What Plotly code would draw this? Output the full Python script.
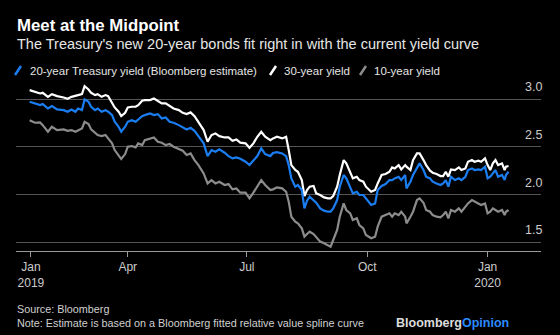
import plotly.graph_objects as go

# Daily-ish yield readings, 2019-01 to 2020-01 (percent)
dates = [
    "2019-01-16", "2019-01-20", "2019-01-24", "2019-01-26", "2019-01-30", "2019-02-02",
    "2019-02-06", "2019-02-11", "2019-02-14", "2019-02-17", "2019-02-20", "2019-02-22",
    "2019-02-25", "2019-02-27", "2019-03-02", "2019-03-04", "2019-03-07", "2019-03-09",
    "2019-03-12", "2019-03-15", "2019-03-17", "2019-03-20", "2019-03-22", "2019-03-25",
    "2019-03-27", "2019-03-30", "2019-04-01", "2019-04-04", "2019-04-07", "2019-04-09",
    "2019-04-12", "2019-04-14", "2019-04-18",
    "2019-04-21", "2019-04-24", "2019-04-27", "2019-04-30", "2019-05-03", "2019-05-06",
    "2019-05-10", "2019-05-13", "2019-05-16", "2019-05-19", "2019-05-22", "2019-05-25",
    "2019-05-29", "2019-06-01", "2019-06-04", "2019-06-07", "2019-06-10", "2019-06-14",
    "2019-06-17", "2019-06-20", "2019-06-23", "2019-06-26", "2019-06-30", "2019-07-03",
    "2019-07-06", "2019-07-09", "2019-07-12", "2019-07-15", "2019-07-19",
    "2019-07-21", "2019-07-24", "2019-07-28", "2019-07-31", "2019-08-02", "2019-08-04",
    "2019-08-07", "2019-08-09", "2019-08-12", "2019-08-14", "2019-08-16", "2019-08-18",
    "2019-08-21", "2019-08-23", "2019-08-26", "2019-08-29", "2019-09-01", "2019-09-03",
    "2019-09-05", "2019-09-08", "2019-09-10", "2019-09-13", "2019-09-15", "2019-09-18",
    "2019-09-20", "2019-09-23", "2019-09-25", "2019-09-28", "2019-09-30", "2019-10-04",
    "2019-10-07", "2019-10-09", "2019-10-12", "2019-10-15", "2019-10-18",
    "2019-10-20", "2019-10-22", "2019-10-25", "2019-10-27", "2019-10-30", "2019-10-31",
    "2019-11-03", "2019-11-05", "2019-11-08", "2019-11-10", "2019-11-13", "2019-11-15",
    "2019-11-18", "2019-11-20", "2019-11-23", "2019-11-26", "2019-11-28", "2019-11-30",
    "2019-12-02", "2019-12-04", "2019-12-07", "2019-12-10", "2019-12-12", "2019-12-15",
    "2019-12-17", "2019-12-20", "2019-12-22", "2019-12-25", "2019-12-27", "2019-12-30",
    "2020-01-01", "2020-01-03", "2020-01-05", "2020-01-07", "2020-01-09", "2020-01-12",
    "2020-01-14", "2020-01-15", "2020-01-17",
]

yield_30y = [
    3.094, 3.077, 3.059, 3.066, 3.024, 3.052, 3.031, 3.017, 3.003, 3.024, 3.031, 3.042,
    3.052, 3.136, 3.101, 3.066, 3.042, 3.052, 3.024, 3.042, 3.031, 2.962, 2.913, 2.868,
    2.822, 2.857, 2.913, 2.920, 2.920, 2.937, 2.983, 2.990, 2.990,
    3.007, 2.983, 2.955, 2.955, 2.927, 2.902, 2.885, 2.857, 2.843, 2.861, 2.822, 2.753,
    2.676, 2.554, 2.624, 2.641, 2.613, 2.599, 2.599, 2.564, 2.578, 2.544, 2.537, 2.491,
    2.537, 2.606, 2.659, 2.606, 2.571,
    2.589, 2.606, 2.589, 2.606, 2.467, 2.310, 2.258, 2.240, 2.153, 1.986, 2.049, 2.084,
    2.091, 2.014, 1.997, 1.972, 1.962, 1.962, 1.986, 2.084, 2.206, 2.362, 2.328, 2.223,
    2.171, 2.188, 2.153, 2.136, 2.084, 2.031, 2.049, 2.118, 2.206, 2.216, 2.240,
    2.286, 2.275, 2.310, 2.265, 2.310, 2.293, 2.258, 2.362, 2.432, 2.432, 2.362, 2.310,
    2.251, 2.230, 2.216, 2.195, 2.195, 2.240, 2.188, 2.265, 2.258, 2.286, 2.258, 2.275,
    2.345, 2.362, 2.345, 2.355, 2.345, 2.380, 2.310, 2.258, 2.328, 2.362, 2.310, 2.328,
    2.258, 2.293, 2.300,
]

yield_20y = [
    2.972, 2.955, 2.937, 2.948, 2.902, 2.927, 2.892, 2.885, 2.868, 2.892, 2.868, 2.902,
    2.885, 2.997, 2.972, 2.920, 2.885, 2.902, 2.868, 2.885, 2.868, 2.833, 2.763, 2.711,
    2.659, 2.711, 2.763, 2.780, 2.763, 2.787, 2.822, 2.833, 2.850,
    2.833, 2.843, 2.798, 2.808, 2.763, 2.753, 2.728, 2.704, 2.683, 2.700, 2.669, 2.613,
    2.537, 2.404, 2.467, 2.449, 2.474, 2.439, 2.404, 2.380, 2.390, 2.376, 2.345, 2.310,
    2.362, 2.404, 2.484, 2.425, 2.404,
    2.436, 2.446, 2.432, 2.404, 2.310, 2.171, 2.084, 2.101, 2.049, 1.857, 1.937, 1.979,
    1.944, 1.916, 1.857, 1.833, 1.822, 1.822, 1.857, 1.944, 2.084, 2.206, 2.171, 2.084,
    2.014, 2.031, 1.997, 1.997, 1.962, 1.892, 1.909, 2.049, 2.091, 2.111, 2.153,
    2.153, 2.171, 2.188, 2.153, 2.206, 2.066, 2.136, 2.206, 2.286, 2.328, 2.258, 2.188,
    2.171, 2.136, 2.118, 2.101, 2.118, 2.153, 2.084, 2.188, 2.153, 2.171, 2.153, 2.188,
    2.258, 2.275, 2.258, 2.265, 2.258, 2.293, 2.171, 2.188, 2.223, 2.258, 2.188, 2.206,
    2.153, 2.206, 2.240,
]

yield_10y = [
    2.780, 2.753, 2.756, 2.728, 2.659, 2.711, 2.676, 2.683, 2.669, 2.676, 2.659, 2.676,
    2.693, 2.763, 2.739, 2.683, 2.648, 2.624, 2.613, 2.624, 2.589, 2.537, 2.467, 2.404,
    2.373, 2.425, 2.502, 2.509, 2.495, 2.537, 2.519, 2.571, 2.589,
    2.599, 2.554, 2.544, 2.519, 2.530, 2.502, 2.474, 2.460, 2.415, 2.432, 2.362, 2.310,
    2.223, 2.118, 2.153, 2.118, 2.136, 2.101, 2.111, 2.056, 2.066, 2.021, 2.021, 1.962,
    2.021, 2.084, 2.153, 2.101, 2.049,
    2.056, 2.077, 2.066, 2.031, 1.927, 1.770, 1.718, 1.700, 1.648, 1.561, 1.589, 1.613,
    1.589, 1.561, 1.509, 1.491, 1.474, 1.456, 1.526, 1.631, 1.770, 1.909, 1.840, 1.805,
    1.735, 1.753, 1.683, 1.648, 1.578, 1.544, 1.561, 1.666, 1.770, 1.787, 1.805,
    1.770, 1.805, 1.787, 1.822, 1.770, 1.700, 1.770, 1.822, 1.944, 1.962, 1.916, 1.840,
    1.822, 1.787, 1.770, 1.763, 1.787, 1.822, 1.753, 1.840, 1.822, 1.857, 1.822, 1.875,
    1.909, 1.944, 1.927, 1.909, 1.892, 1.909, 1.805, 1.822, 1.857, 1.840, 1.822, 1.840,
    1.787, 1.822, 1.840,
]

tick_dates = ["2019-01-17", "2019-04-01", "2019-07-01", "2019-10-01", "2020-01-01"]
tick_text = ["Jan<br>2019", "Apr", "Jul", "Oct", "Jan<br>2020"]
y_ticks = [1.5, 2.0, 2.5, 3.0]
y_tick_text = ["1.5", "2.0", "2.5", "3.0"]

BLUE = "#1a7ef2"
GRAY = "#8c8c8c"
WHITE = "#ffffff"
FONT = "Liberation Sans, Arial, sans-serif"

W, H = 560, 335
M_L, M_R, M_T, M_B = 16, 19, 80, 84
PW, PH = W - M_L - M_R, H - M_T - M_B


def px(x):
    """Figure pixel column -> paper x."""
    return (x - M_L) / PW


def py(y):
    """Figure pixel row -> paper y."""
    return (H - M_B - y) / PH


fig = go.Figure()
fig.add_trace(go.Scatter(x=dates, y=yield_10y, mode="lines",
                         line=dict(color=GRAY, width=2.2), showlegend=False))
fig.add_trace(go.Scatter(x=dates, y=yield_30y, mode="lines",
                         line=dict(color=WHITE, width=2.2), showlegend=False))
fig.add_trace(go.Scatter(x=dates, y=yield_20y, mode="lines",
                         line=dict(color=BLUE, width=2.2), showlegend=False))

texts = [
    ("<b>Meet at the Midpoint</b>", 15, 26, 16.8, "#ffffff", "left"),
    ("The Treasury's new 20-year bonds fit right in with the current yield curve",
     15, 44, 14.5, "#e6e6e6", "left"),
    ("20-year Treasury yield (Bloomberg estimate)", 28, 71, 11.5, "#e6e6e6", "left"),
    ("30-year yield", 282, 71, 11.5, "#e6e6e6", "left"),
    ("10-year yield", 372, 71, 11.5, "#e6e6e6", "left"),
    ("Source: Bloomberg", 15, 309, 10.8, "#d0d0d0", "left"),
    ("Note: Estimate is based on a Bloomberg fitted relative value spline curve",
     15, 323, 10.8, "#d0d0d0", "left"),
    ("<b>Bloomberg</b><b><span style='color:#2b8cff'>Opinion</span></b>",
     511, 323, 12.5, "#dcdcdc", "right"),
]
for text, x, y, size, col, anchor in texts:
    fig.add_annotation(xref="paper", yref="paper", x=px(x), y=py(y),
                       xanchor=anchor, yanchor="middle", showarrow=False,
                       text=text, font=dict(size=size, color=col))

# right-hand value labels sitting just above each gridline
for v, t in zip(y_ticks, y_tick_text):
    fig.add_annotation(xref="paper", yref="y", x=1, y=v, xanchor="right",
                       yanchor="bottom", xshift=3, yshift=3, showarrow=False, text=t,
                       font=dict(size=12.5, color="#cccccc"))

# legend swatches: short slanted strokes
shapes = []
for x0, col in [(15, BLUE), (270, WHITE), (360, GRAY)]:
    shapes.append(dict(type="line", xref="paper", yref="paper",
                       x0=px(x0), x1=px(x0 + 6), y0=py(75), y1=py(66),
                       line=dict(color=col, width=2.5)))

fig.update_layout(
    width=W, height=H,
    margin=dict(l=M_L, r=M_R, t=M_T, b=M_B),
    paper_bgcolor="#000000", plot_bgcolor="#000000",
    font=dict(family=FONT, color="#cccccc"),
    shapes=shapes,
    xaxis=dict(
        type="date",
        range=["2019-01-05 14:00", "2020-02-10 19:00"],
        tickmode="array", tickvals=tick_dates, ticktext=tick_text,
        showgrid=False, zeroline=False,
        showline=True, linecolor="#9a9a9a", linewidth=1,
        ticks="outside", ticklen=5, tickcolor="#9a9a9a",
        tickfont=dict(size=12, color="#cccccc"),
    ),
    yaxis=dict(
        range=[1.411, 3.2], side="right",
        tickmode="array", tickvals=y_ticks, showticklabels=False,
        showgrid=True, gridcolor="#555555", gridwidth=1,
        zeroline=False, showline=False, ticks="",
    ),
)

fig.write_html("out.html")
